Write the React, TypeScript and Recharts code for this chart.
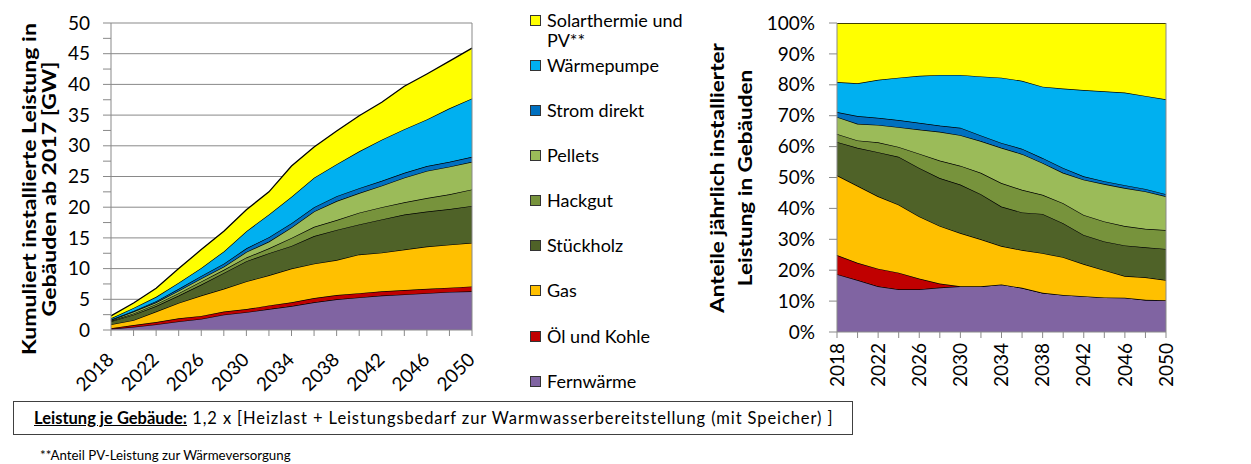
import React from "react";
import { AreaChart, Area, XAxis, YAxis, CartesianGrid } from "recharts";

// years on the x axis (every 2 years)
const years = [2018, 2020, 2022, 2024, 2026, 2028, 2030, 2032, 2034, 2036, 2038, 2040, 2042, 2044, 2046, 2048, 2050];

// left chart: cumulative installed capacity in GW, per technology
const fernwaermeGW = [0.2, 0.5, 0.9, 1.4, 1.8, 2.5, 2.9, 3.4, 3.9, 4.5, 5.0, 5.3, 5.6, 5.8, 6.0, 6.2, 6.3];
const oelGW = [0.1, 0.3, 0.4, 0.5, 0.5, 0.5, 0.5, 0.6, 0.6, 0.7, 0.7, 0.7, 0.7, 0.7, 0.7, 0.7, 0.8];
const gasGW = [0.6, 0.8, 1.7, 2.5, 3.3, 3.7, 4.5, 4.9, 5.5, 5.6, 5.7, 6.3, 6.3, 6.6, 6.9, 7.0, 7.1];
const stueckholzGW = [0.5, 0.9, 0.9, 1.2, 1.8, 2.6, 3.3, 3.6, 3.7, 4.5, 4.9, 4.9, 5.4, 5.7, 5.7, 5.8, 6.0];
const hackgutGW = [0.1, 0.2, 0.3, 0.4, 0.5, 0.5, 0.6, 0.8, 1.3, 1.5, 1.6, 1.9, 2.0, 2.0, 2.2, 2.4, 2.7];
const pelletsGW = [0.1, 0.3, 0.3, 0.4, 0.5, 0.5, 0.9, 1.1, 1.7, 2.5, 3.1, 3.2, 3.5, 4.0, 4.4, 4.5, 4.5];
const stromGW = [0.1, 0.1, 0.2, 0.3, 0.4, 0.5, 0.6, 0.7, 0.7, 0.7, 0.8, 0.8, 0.8, 0.8, 0.8, 0.8, 0.8];
const waermepumpeGW = [0.2, 0.5, 0.7, 1.0, 1.3, 2.0, 2.8, 3.7, 4.3, 4.8, 5.2, 6.0, 6.7, 7.1, 7.6, 8.7, 9.5];
const solarGW = [0.4, 0.8, 1.4, 2.3, 3.0, 3.3, 3.5, 3.7, 5.0, 5.0, 5.4, 5.8, 6.1, 7.0, 7.4, 7.7, 8.2];

// right chart: shares of capacity installed per year, in %
const fernwaermePct = [18.7, 16.8, 14.8, 13.8, 13.8, 14.4, 14.8, 14.8, 15.4, 14.3, 12.7, 12.0, 11.6, 11.2, 11.1, 10.4, 10.3];
const oelPct = [6.2, 5.6, 5.7, 5.4, 3.5, 1.3, 0, 0, 0, 0, 0, 0, 0, 0, 0, 0, 0];
const gasPct = [25.8, 24.9, 23.4, 22.0, 20.1, 18.6, 17.2, 15.2, 12.4, 12.2, 12.8, 12.2, 10.4, 8.8, 7.0, 7.3, 6.5];
const stueckholzPct = [10.8, 12.3, 14.3, 15.5, 15.7, 15.5, 15.7, 14.6, 12.8, 12.2, 12.7, 11.0, 9.4, 9.3, 9.9, 9.7, 10.1];
const hackgutPct = [2.6, 2.4, 3.2, 3.2, 4.6, 5.7, 6.1, 6.9, 7.6, 7.3, 6.2, 6.5, 6.5, 6.5, 6.3, 6.0, 6.1];
const pelletsPct = [5.5, 5.4, 5.6, 6.4, 7.8, 9.3, 9.9, 10.3, 11.4, 11.6, 10.3, 9.8, 11.4, 12.1, 12.3, 12.1, 10.9];
const stromPct = [1.6, 2.5, 2.3, 2.3, 2.2, 2.0, 2.4, 1.8, 1.6, 1.7, 1.6, 1.6, 1.1, 0.9, 0.9, 0.8, 0.7];
const waermepumpePct = [9.7, 10.6, 12.3, 13.7, 15.2, 16.4, 17.1, 19.1, 21.1, 22.0, 23.1, 25.7, 27.9, 29.1, 30.0, 30.1, 30.7];
const solarPct = [19.1, 19.5, 18.4, 17.7, 17.1, 16.8, 16.8, 17.3, 17.7, 18.7, 20.6, 21.2, 21.7, 22.1, 22.5, 23.6, 24.7];

// axis ticks
const gwTicks = [0, 2.5, 5, 7.5, 10, 12.5, 15, 17.5, 20, 22.5, 25, 27.5, 30, 32.5, 35, 37.5, 40, 42.5, 45, 47.5, 50];
const gwGrid = [5, 10, 15, 20, 25, 30, 35, 40, 45, 50];
const pctTicks = [0, 10, 20, 30, 40, 50, 60, 70, 80, 90, 100];

// stacking order, bottom to top
const techs = [
  { key: "fernwaerme", name: "Fernwärme", color: "#8064A2" },
  { key: "oel", name: "Öl und Kohle", color: "#C00000" },
  { key: "gas", name: "Gas", color: "#FFC000" },
  { key: "stueckholz", name: "Stückholz", color: "#4F6228" },
  { key: "hackgut", name: "Hackgut", color: "#77933C" },
  { key: "pellets", name: "Pellets", color: "#9BBB59" },
  { key: "strom", name: "Strom direkt", color: "#0070C0" },
  { key: "waermepumpe", name: "Wärmepumpe", color: "#00B0F0" },
  { key: "solar", name: "Solarthermie und PV**", color: "#FFFF00" },
];

const gwRows = years.map((year, i) => ({
  year,
  fernwaerme: fernwaermeGW[i],
  oel: oelGW[i],
  gas: gasGW[i],
  stueckholz: stueckholzGW[i],
  hackgut: hackgutGW[i],
  pellets: pelletsGW[i],
  strom: stromGW[i],
  waermepumpe: waermepumpeGW[i],
  solar: solarGW[i],
}));

const pctRows = years.map((year, i) => ({
  year,
  fernwaerme: fernwaermePct[i],
  oel: oelPct[i],
  gas: gasPct[i],
  stueckholz: stueckholzPct[i],
  hackgut: hackgutPct[i],
  pellets: pelletsPct[i],
  strom: stromPct[i],
  waermepumpe: waermepumpePct[i],
  solar: solarPct[i],
}));

const GRAY = "#898989";
const FONT = "Lato, 'Open Sans', sans-serif";
const TICK_FS = 19;

const showYear = (y: number) => (y - 2018) % 4 === 0;

const SlantTick = (props: any) => {
  const { x, y, payload } = props;
  if (!showYear(payload.value)) return <g />;
  const px = x + 4;
  const py = y + 25;
  return (
    <text x={px} y={py} textAnchor="end" fontSize={TICK_FS} fill="#000" transform={`rotate(-45 ${px} ${py})`}>
      {payload.value}
    </text>
  );
};

const VerticalTick = (props: any) => {
  const { x, y, payload } = props;
  if (!showYear(payload.value)) return <g />;
  const py = y + 5;
  return (
    <text x={x} y={py} dy="0.35em" textAnchor="end" fontSize={TICK_FS} fill="#000" transform={`rotate(-90 ${x} ${py})`}>
      {payload.value}
    </text>
  );
};

const makeYTick = (anchor: "start" | "end", fmt: (v: number) => string) => (props: any) => {
  const { x, y, payload } = props;
  return (
    <text x={x} y={y} dy="0.35em" textAnchor={anchor} fontSize={TICK_FS} fill="#000">
      {fmt(payload.value)}
    </text>
  );
};

const gwFmt = (v: number) => (v % 5 === 0 ? String(v) : "");
const pctFmt = (v: number) => `${v}%`;

function AxisTitle({
  lines,
  cx,
  cy,
  lineHeight,
  stretch,
}: {
  lines: string[];
  cx: number;
  cy: number;
  lineHeight: number;
  stretch: number;
}) {
  const w = 380;
  const h = lineHeight * lines.length;
  return (
    <div
      style={{
        position: "absolute",
        left: cx - w / 2,
        top: cy - h / 2,
        width: w,
        height: h,
        transform: `rotate(-90deg) scaleX(${stretch})`,
        textAlign: "center",
        fontWeight: 700,
        fontSize: 18,
        lineHeight: `${lineHeight}px`,
        whiteSpace: "nowrap",
      }}
    >
      {lines.map((l) => (
        <div key={l}>{l}</div>
      ))}
    </div>
  );
}

function Legend() {
  const items = [...techs].reverse();
  return (
    <div style={{ position: "absolute", left: 530, top: 0 }}>
      {items.map((t, i) => (
        <div key={t.key} style={{ position: "absolute", top: 19.5 + i * 45.15 - 10, left: 0, width: 170 }}>
          <div
            style={{
              position: "absolute",
              left: 0,
              top: 5,
              width: 9,
              height: 9,
              background: t.color,
              border: "1px solid #333",
            }}
          />
          <div style={{ position: "absolute", left: 17, top: 0, width: 145, fontSize: 18, lineHeight: "20px" }}>
            {t.name}
          </div>
        </div>
      ))}
    </div>
  );
}

function StackedAreas({ axisId }: { axisId: string }) {
  return (
    <>
      {techs.map((t) => (
        <Area
          key={t.key}
          yAxisId={axisId}
          dataKey={t.key}
          name={t.name}
          stackId="s"
          type="linear"
          stroke="#000"
          strokeWidth={1.3}
          fill={t.color}
          fillOpacity={1}
          dot={false}
          activeDot={false}
          isAnimationActive={false}
        />
      ))}
    </>
  );
}

export default function App() {
  return (
    <div style={{ position: "relative", width: 1251, height: 464, fontFamily: FONT, color: "#000", background: "#fff" }}>
      <style>{"body{margin:0}"}</style>

      <AxisTitle
        lines={["Kumuliert installierte Leistung in", "Gebäuden ab 2017 [GW]"]}
        cx={38.5}
        cy={189}
        lineHeight={20}
        stretch={1.28}
      />

      <div style={{ position: "absolute", left: 0, top: 0 }}>
        <AreaChart width={522} height={400} data={gwRows} margin={{ top: 23, right: 0, bottom: 0, left: 0 }}>
          <CartesianGrid yAxisId="l" vertical={false} horizontalValues={gwGrid} stroke={GRAY} />
          <XAxis
            dataKey="year"
            height={70}
            interval={0}
            tickSize={6}
            tickMargin={0}
            axisLine={{ stroke: GRAY }}
            tickLine={{ stroke: GRAY }}
            tick={SlantTick}
          />
          <YAxis
            yAxisId="l"
            width={111}
            domain={[0, 50]}
            ticks={gwTicks}
            interval={0}
            tickSize={8}
            tickMargin={13}
            axisLine={{ stroke: GRAY }}
            tickLine={{ stroke: GRAY }}
            tick={makeYTick("end", gwFmt)}
          />
          <YAxis
            yAxisId="r"
            orientation="right"
            width={50}
            domain={[0, 50]}
            ticks={gwTicks}
            interval={0}
            tickSize={8}
            tickMargin={13}
            axisLine={{ stroke: GRAY }}
            tickLine={{ stroke: GRAY }}
            tick={makeYTick("start", gwFmt)}
          />
          {StackedAreas({ axisId: "l" })}
        </AreaChart>
      </div>

      <Legend />

      <AxisTitle
        lines={["Anteile jährlich installierter", "Leistung in Gebäuden"]}
        cx={731}
        cy={178}
        lineHeight={28}
        stretch={1.25}
      />

      <div style={{ position: "absolute", left: 760, top: 0 }}>
        <AreaChart width={476} height={392} data={pctRows} margin={{ top: 23, right: 0, bottom: 0, left: 0 }}>
          <XAxis
            dataKey="year"
            height={60}
            interval={0}
            tickSize={6}
            tickMargin={0}
            axisLine={{ stroke: GRAY }}
            tickLine={{ stroke: GRAY }}
            tick={VerticalTick}
          />
          <YAxis
            yAxisId="l"
            width={77}
            domain={[0, 100]}
            allowDataOverflow
            ticks={pctTicks}
            interval={0}
            tickSize={8}
            tickMargin={14}
            axisLine={{ stroke: GRAY }}
            tickLine={{ stroke: GRAY }}
            tick={makeYTick("end", pctFmt)}
          />
          <YAxis
            yAxisId="r"
            orientation="right"
            width={70}
            domain={[0, 100]}
            ticks={pctTicks}
            interval={0}
            tickSize={8}
            tickMargin={12}
            axisLine={{ stroke: GRAY }}
            tickLine={{ stroke: GRAY }}
            tick={makeYTick("start", pctFmt)}
          />
          {StackedAreas({ axisId: "l" })}
        </AreaChart>
      </div>

      <div
        style={{
          position: "absolute",
          left: 13,
          top: 401,
          width: 840,
          height: 34,
          border: "1px solid #404040",
          fontSize: 16.5,
          lineHeight: "32px",
          paddingLeft: 20,
          boxSizing: "border-box",
          whiteSpace: "nowrap",
        }}
      >
        <span style={{ fontWeight: 700, textDecoration: "underline" }}>Leistung je Gebäude:</span>
        <span style={{ letterSpacing: 0.9 }}>
          {" "}1,2 x [Heizlast + Leistungsbedarf zur Warmwasserbereitstellung (mit Speicher) ]
        </span>
      </div>

      <div style={{ position: "absolute", left: 40, top: 446, fontSize: 13.3, lineHeight: "18px" }}>
        **Anteil PV-Leistung zur Wärmeversorgung
      </div>
    </div>
  );
}
